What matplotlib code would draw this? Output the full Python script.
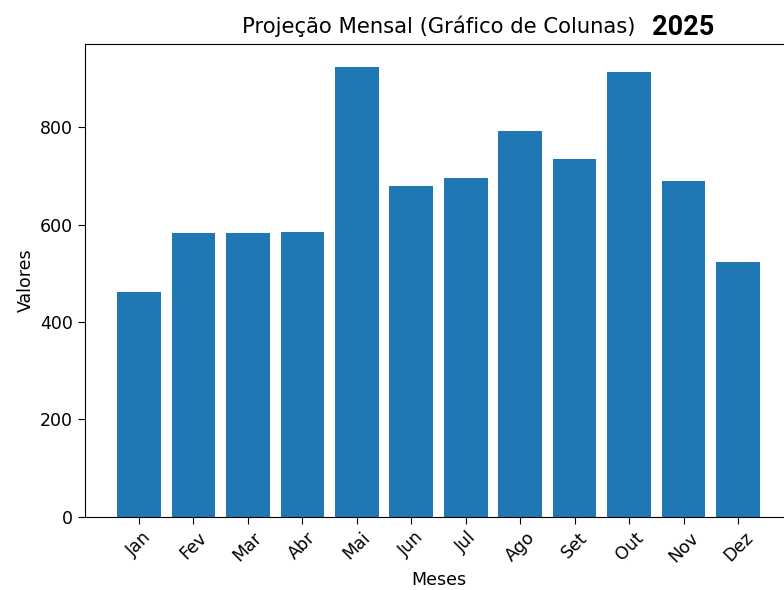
import matplotlib.pyplot as plt
import numpy as np

# Monthly projection values
meses = ["Jan", "Fev", "Mar", "Abr", "Mai", "Jun", "Jul", "Ago", "Set", "Out", "Nov", "Dez"]
valores = [461, 583, 582, 585, 924, 680, 696, 793, 735, 913, 689, 524]

fig = plt.figure(figsize=(7.84, 5.9), dpi=100)
# axes runs slightly past the right edge, like the cropped original
ax = fig.add_axes([85 / 784, (590 - 516.7) / 590, (792 - 85) / 784, (516.7 - 44.3) / 590])

ax.bar(meses, valores, color="#1f77b4")

ax.set_title("Projeção Mensal (Gráfico de Colunas)", fontsize=15.2, pad=8)
ax.set_xlabel("Meses", fontsize=12.5)
ax.set_ylabel("Valores", fontsize=12.5)
ax.tick_params(axis="both", labelsize=12.5, length=5)
plt.setp(ax.get_xticklabels(), rotation=45)

fig.text(652 / 784, 1 - 35 / 590, "2025", fontsize=19.5, fontweight="bold",
         family="Roboto", color="black")

fig.savefig("out.png", dpi=100)
